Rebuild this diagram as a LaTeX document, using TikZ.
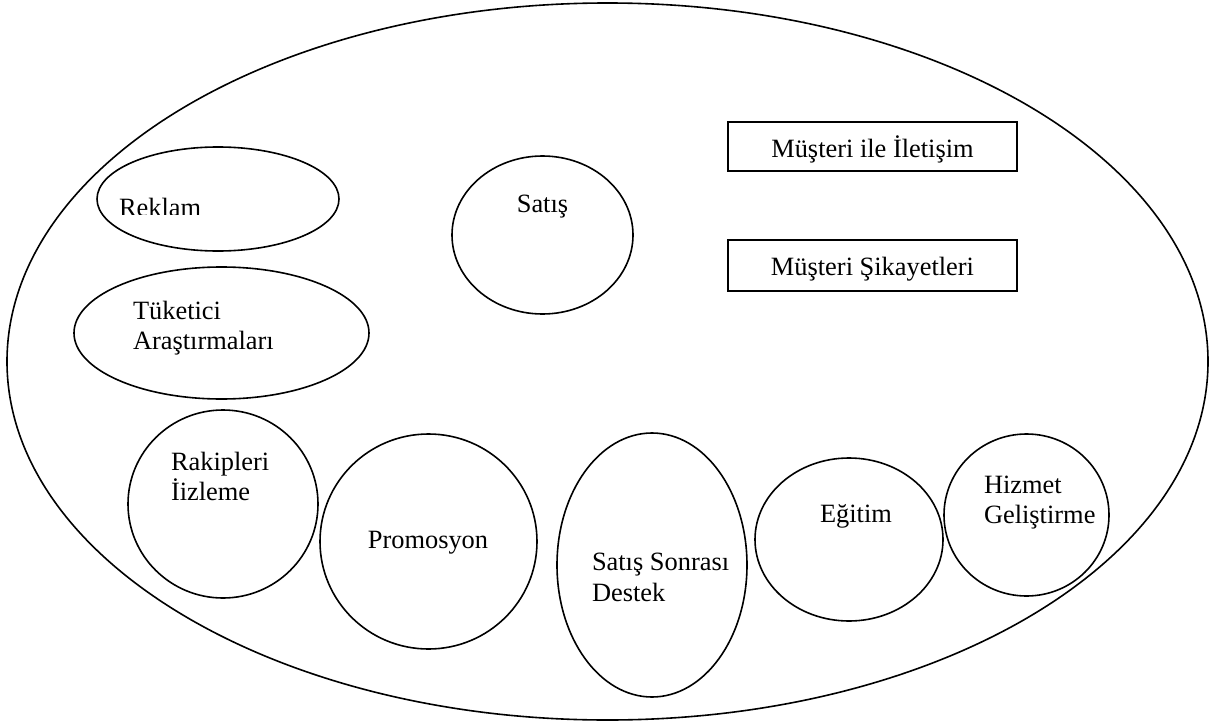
\documentclass[tikz,border=0pt]{standalone}
\usepackage{fontspec}
\setmainfont{Liberation Serif}
\usetikzlibrary{shapes.geometric}
\begin{document}
\begin{tikzpicture}[x=1pt,y=-1pt,
  oval/.style={draw=black, line width=1.6pt, ellipse, inner sep=0pt, outer sep=0pt},
  box/.style={draw=black, line width=1.6pt, rectangle, inner sep=0pt, outer sep=0pt},
  txt/.style={inner sep=0pt, outer sep=0pt, font=\fontsize{26.4}{30}\selectfont}]
\useasboundingbox (0,0) rectangle (1210,725);
% outer ellipse
\node[oval, minimum width=1201pt, minimum height=717pt] (outer) at (607.5,361.5) {};
% ellipses
\node[oval, minimum width=242pt, minimum height=104pt] (reklam) at (218,199) {};
\node[oval, minimum width=295pt, minimum height=132pt] (tuketici) at (221.5,333) {};
\node[oval, minimum width=181pt, minimum height=158pt] (satis) at (542.5,235) {};
\node[oval, minimum width=190pt, minimum height=188pt] (rakip) at (223,504) {};
\node[oval, minimum width=217pt, minimum height=215pt] (promo) at (428.5,541.5) {};
\node[oval, minimum width=190pt, minimum height=264pt] (destek) at (652,565) {};
\node[oval, minimum width=188pt, minimum height=163pt] (egitim) at (849,539.5) {};
\node[oval, minimum width=165pt, minimum height=162pt] (hizmet) at (1026.5,515) {};
% boxes
\node[box, minimum width=289pt, minimum height=49pt] (iletisim) at (872.5,146.5) {};
\node[box, minimum width=289pt, minimum height=51pt] (sikayet) at (872.5,265.5) {};
% texts
\begin{scope}
\clip (0,0) rectangle (1210,214.5);
\node[txt, anchor=base west] (reklamT) at (119,216.5) {Reklam};
\end{scope}
\node[txt, anchor=base west] (tuketiciT1) at (133,319) {Tüketici};
\node[txt, anchor=base west] (tuketiciT2) at (133,349) {Araştırmaları};
\node[txt, anchor=base] (satisT) at (542.5,212) {Satış};
\node[txt, anchor=base] (iletisimT) at (872.5,157.5) {Müşteri ile İletişim};
\node[txt, anchor=base] (sikayetT) at (872.5,275.5) {Müşteri Şikayetleri};
\node[txt, anchor=base west] (rakipT1) at (171,470.5) {Rakipleri};
\node[txt, anchor=base west] (rakipT2) at (171,500.5) {İizleme};
\node[txt, anchor=base] (promoT) at (428,548.5) {Promosyon};
\node[txt, anchor=base west] (destekT1) at (592,570) {Satış Sonrası};
\node[txt, anchor=base west] (destekT2) at (592,601) {Destek};
\node[txt, anchor=base] (egitimT) at (856,522) {Eğitim};
\node[txt, anchor=base west] (hizmetT1) at (984,493) {Hizmet};
\node[txt, anchor=base west] (hizmetT2) at (984,523) {Geliştirme};
\end{tikzpicture}
\end{document}
